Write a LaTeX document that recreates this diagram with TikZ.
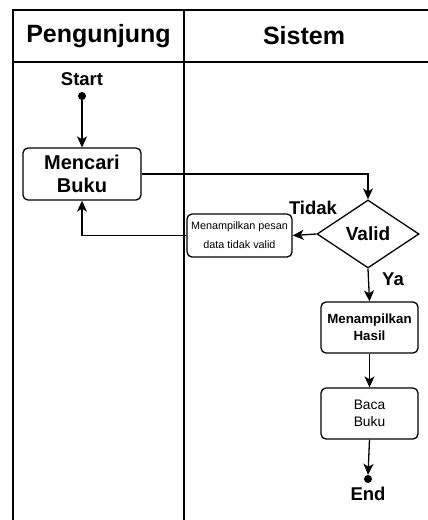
\documentclass[tikz,border=0pt]{standalone}
\usepackage{fontspec}
\setmainfont{Liberation Sans}
\usetikzlibrary{arrows.meta,shapes.geometric}
\begin{document}
\begin{tikzpicture}[x=1pt,y=-1pt,
  frame/.style={line width=1.3pt},
  arr/.style={line width=1.3pt,-{Stealth[length=11pt,width=10pt,inset=3pt]}},
  act/.style={draw,line width=1.3pt,rounded corners=5pt,align=center,inner sep=0pt},
  hdr/.style={font=\fontsize{25}{28}\selectfont\bfseries,inner sep=0pt},
  lbl/.style={font=\fontsize{18.5}{20}\selectfont\bfseries,inner sep=0pt},
  dotnode/.style={circle,fill=black,minimum size=8pt,inner sep=0pt}]
\useasboundingbox (0,0) rectangle (428,520);
\fill[white] (0,0) rectangle (428,520);
% swimlanes
\draw[frame] (428,10) -- (13,10) -- (13,520);
\draw[frame] (184,10) -- (184,520);
\draw[frame] (13,62) -- (428,62);
\node[hdr] (hp) at (98.5,36) {Pengunjung};
\node[hdr] (hs) at (304,36) {Sistem};
% start
\node[lbl] (start) at (82,79) {Start};
\node[dotnode] (sdot) at (82,96) {};
\node[act,minimum width=118pt,minimum height=52pt,font=\fontsize{20}{23}\selectfont\bfseries] (cari) at (82,174) {Mencari\\Buku};
\node[draw,diamond,line width=1.3pt,minimum width=102pt,minimum height=68pt,inner sep=0pt,font=\fontsize{19}{21}\selectfont\bfseries] (valid) at (368,234) {Valid};
\node[act,minimum width=105pt,minimum height=43pt,font=\fontsize{10.8}{19}\selectfont] (msg) at (239.5,235.5) {Menampilkan pesan\\data tidak valid};
\node[lbl] (tidak) at (313,208) {Tidak};
\node[lbl] (ya) at (393,279) {Ya};
\node[act,minimum width=97pt,minimum height=51pt,font=\fontsize{13.3}{17}\selectfont\bfseries] (hasil) at (369.5,327.5) {Menampilkan\\Hasil};
\node[act,minimum width=97pt,minimum height=51pt,font=\fontsize{13.8}{17}\selectfont] (baca) at (369.5,413.5) {Baca\\Buku};
\node[dotnode] (edot) at (368,479) {};
\node[lbl] (end) at (368,494) {End};
% connectors
\draw[arr] (sdot) -- (cari.north);
\draw[arr] (cari.east) -| (valid.north);
\draw[arr] (valid.west) -- (msg.east);
\draw[arr] (msg.west) -| (cari.south);
\draw[arr] (valid.south) -- (hasil.north);
\draw[arr] (hasil.south) -- (baca.north);
\draw[arr] (baca.south) -- (edot.north);
\end{tikzpicture}
\end{document}
